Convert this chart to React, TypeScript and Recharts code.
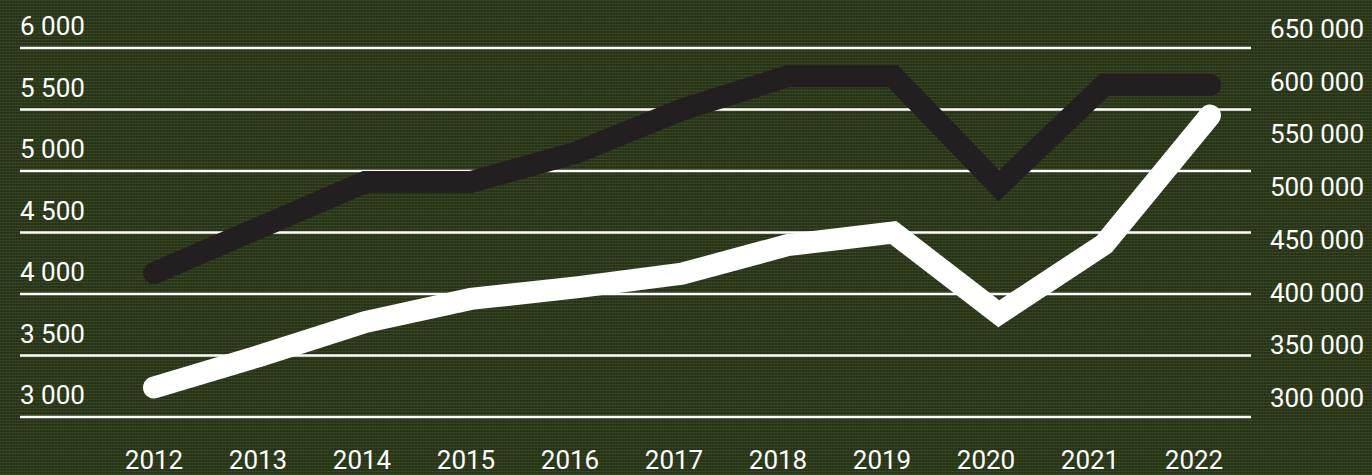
import { LineChart, Line, XAxis, YAxis, CartesianGrid } from 'recharts'

const years = ['2012', '2013', '2014', '2015', '2016', '2017', '2018', '2019', '2020', '2021', '2022']
const darkSeries = [4170, 4540, 4910, 4910, 5150, 5500, 5770, 5770, 4880, 5700, 5700]
const whiteSeries = [328000, 358000, 390000, 412000, 423000, 436000, 463000, 475000, 398000, 464000, 586000]
const leftTicks = [3000, 3500, 4000, 4500, 5000, 5500, 6000]
const rightTicks = [300000, 350000, 400000, 450000, 500000, 550000, 600000, 650000]

const fmt = (v: number) => String(v).replace(/\B(?=(\d{3})+(?!\d))/g, ' ')

const FONT = 'Roboto, "Noto Sans", sans-serif'
const textStyle = { fill: '#fff', fontSize: 26, fontFamily: FONT, fontWeight: 400 }

const LeftTick = (props: any) => {
  const { y, payload } = props
  return (
    <text x={20} y={y - 13} textAnchor="start" {...textStyle}>
      {fmt(payload.value)}
    </text>
  )
}

const RightTick = (props: any) => {
  const { y, payload } = props
  return (
    <text x={1364} y={y - 10} textAnchor="end" {...textStyle}>
      {fmt(payload.value)}
    </text>
  )
}

const YearTick = (props: any) => {
  const { x, y, payload, index } = props
  return (
    <text x={x - index * 1.6} y={y + 44} textAnchor="middle" {...textStyle}>
      {payload.value}
    </text>
  )
}

export default function App() {
  const data = years.map((year, i) => ({ year, dark: darkSeries[i], white: whiteSeries[i] }))

  return (
    <div
      style={{
        position: 'absolute',
        left: 0,
        top: 0,
        width: 1372,
        height: 475,
        backgroundColor: '#283b1e',
        backgroundImage:
          'repeating-linear-gradient(0deg, rgba(78,76,30,0.45) 0px, rgba(78,76,30,0.45) 1px, rgba(20,36,18,0.3) 1px, rgba(20,36,18,0.3) 3px), repeating-linear-gradient(90deg, rgba(78,76,30,0.4) 0px, rgba(78,76,30,0.4) 1px, rgba(0,0,0,0) 1px, rgba(0,0,0,0) 3px)',
      }}
    >
      <LineChart width={1372} height={475} data={data} margin={{ top: 48, right: 111, bottom: 0, left: 10 }}>
        <CartesianGrid yAxisId="left" vertical={false} stroke="#fff" strokeWidth={2.5} />
        <XAxis
          dataKey="year"
          height={58}
          axisLine={false}
          tickLine={false}
          padding={{ left: 134, right: 41 }}
          tick={<YearTick />}
          interval={0}
        />
        <YAxis
          yAxisId="left"
          width={10}
          domain={[3000, 6000]}
          ticks={leftTicks}
          axisLine={false}
          tickLine={false}
          tick={<LeftTick />}
          interval={0}
        />
        <YAxis
          yAxisId="right"
          orientation="right"
          width={10}
          domain={[300000, 650000]}
          ticks={rightTicks}
          axisLine={false}
          tickLine={false}
          tick={<RightTick />}
          interval={0}
        />
        <Line
          yAxisId="right"
          dataKey="white"
          stroke="#ffffff"
          strokeWidth={22}
          strokeLinecap="round"
          strokeLinejoin="miter"
          dot={false}
          isAnimationActive={false}
        />
        <Line
          yAxisId="left"
          dataKey="dark"
          stroke="#231f20"
          strokeWidth={22}
          strokeLinecap="round"
          strokeLinejoin="miter"
          dot={false}
          isAnimationActive={false}
        />
      </LineChart>
    </div>
  )
}
